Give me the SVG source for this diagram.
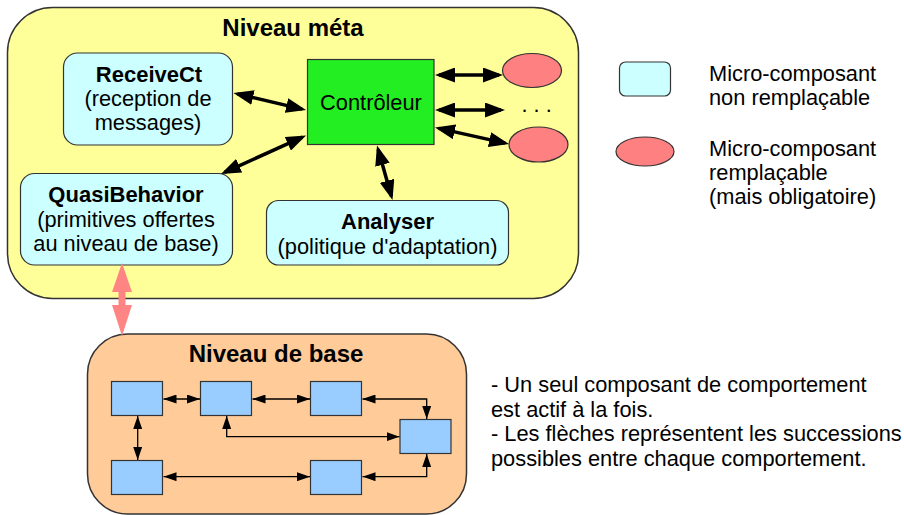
<svg xmlns="http://www.w3.org/2000/svg" width="904" height="515" viewBox="0 0 904 515">
<style>
  text { font-family: "Liberation Sans", Arial, sans-serif; fill: #000; }
  .title { font-size: 24px; font-weight: bold; text-anchor: middle; }
  .head { font-size: 22px; font-weight: bold; text-anchor: middle; }
  .body { font-size: 21.8px; text-anchor: middle; }
  .left { font-size: 21.8px; }
  .cont { stroke: #333; stroke-width: 1.5; }
  .micro { fill: #ccffff; stroke: #333; stroke-width: 1.2; }
  .repl { fill: #ff8080; stroke: #333; stroke-width: 1.2; }
  .beh { fill: #99ccff; stroke: #333; stroke-width: 1.2; }
  .thick { fill: none; stroke: #000; stroke-width: 3.5; marker-start: url(#bigHead); marker-end: url(#bigHead); }
  .thin { fill: none; stroke: #000; stroke-width: 1.3; marker-start: url(#smallHead); marker-end: url(#smallHead); }
</style>
<defs>
  <marker id="bigHead" markerUnits="userSpaceOnUse" markerWidth="20" markerHeight="15" refX="16" refY="7.5" orient="auto-start-reverse">
    <path d="M0,0 L20,7.5 L0,15 z" fill="#000"/>
  </marker>
  <marker id="smallHead" markerUnits="userSpaceOnUse" markerWidth="13" markerHeight="9" refX="13" refY="4.5" orient="auto-start-reverse">
    <path d="M0,0 L13,4.5 L0,9 z" fill="#000"/>
  </marker>
</defs>

<g id="niveau-meta">
  <rect class="cont" x="7.5" y="7.5" width="571" height="291" rx="45" fill="#ffff99"/>
  <text class="title" x="293" y="36">Niveau méta</text>
</g>

<g id="niveau-base">
  <rect class="cont" x="87.5" y="334" width="379" height="180" rx="40" fill="#ffcc99"/>
  <text class="title" x="276" y="362">Niveau de base</text>
</g>

<g id="receivect">
  <rect class="micro" x="63.5" y="53" width="169" height="92" rx="14"/>
  <text class="head" x="149" y="82">ReceiveCt</text>
  <text class="body" x="148" y="106">(reception de</text>
  <text class="body" x="148" y="130">messages)</text>
</g>

<g id="controleur">
  <rect x="307.5" y="59.5" width="126.5" height="85" fill="#22ee22" stroke="#333" stroke-width="1.2"/>
  <text class="body" x="371" y="110">Contrôleur</text>
</g>

<g id="quasibehavior">
  <rect class="micro" x="20.5" y="173.5" width="212" height="91.5" rx="14"/>
  <text class="head" x="126" y="202">QuasiBehavior</text>
  <text class="body" x="126" y="226.5">(primitives offertes</text>
  <text class="body" x="126" y="250.5">au niveau de base)</text>
</g>

<g id="analyser">
  <rect class="micro" x="266.5" y="200.5" width="242" height="64.5" rx="12"/>
  <text class="head" x="387.5" y="228.5">Analyser</text>
  <text class="body" x="387.5" y="253.5">(politique d'adaptation)</text>
</g>

<g id="composant-remplacable-1">
  <ellipse class="repl" cx="532" cy="70.5" rx="29.5" ry="17"/>
</g>
<g id="composant-remplacable-etc">
  <text class="left" x="521.5" y="112">. . .</text>
</g>
<g id="composant-remplacable-2">
  <ellipse class="repl" cx="538.5" cy="144.5" rx="29.5" ry="17.5"/>
</g>

<g id="b1"><rect class="beh" x="111.5" y="381.5" width="51" height="34"/></g>
<g id="b2"><rect class="beh" x="200.5" y="381.5" width="51" height="34"/></g>
<g id="b3"><rect class="beh" x="310.5" y="381.5" width="51" height="34"/></g>
<g id="b4"><rect class="beh" x="400" y="419.5" width="51" height="34"/></g>
<g id="b5"><rect class="beh" x="111.5" y="460.5" width="51" height="34"/></g>
<g id="b6"><rect class="beh" x="310.5" y="460.5" width="51" height="34"/></g>

<g id="connectors">
  <line class="thick" x1="237.4" y1="93.9" x2="302.1" y2="109.1"/>
  <line class="thick" x1="224.6" y1="172.3" x2="302.4" y2="137.2"/>
  <line class="thick" x1="378.1" y1="149.3" x2="391.4" y2="196.2"/>
  <line class="thick" x1="439" y1="75" x2="499" y2="75"/>
  <line class="thick" x1="439" y1="110" x2="501" y2="110"/>
  <line class="thick" x1="438.9" y1="128.4" x2="505.1" y2="143.1"/>

  <line class="thin" x1="163.5" y1="399" x2="200" y2="399"/>
  <line class="thin" x1="252.5" y1="399" x2="310" y2="399"/>
  <path class="thin" d="M362.5,399 H426.7 V419"/>
  <path class="thin" d="M226.7,416 V436.7 H399.5"/>
  <line class="thin" x1="137.7" y1="416" x2="137.7" y2="460"/>
  <line class="thin" x1="163.5" y1="476.7" x2="310" y2="476.7"/>
  <path class="thin" d="M362.5,476.7 H426.7 V454"/>

  <polygon points="122,263 132,292 125.5,292 125.5,305 132,305 122,336 112,305 118.5,305 118.5,292 112,292" fill="#ff8585"/>
</g>

<g id="legende-non-remplacable">
  <rect class="micro" x="619.5" y="62" width="51" height="34" rx="6"/>
  <text class="left" x="709" y="81">Micro-composant</text>
  <text class="left" x="709" y="105">non remplaçable</text>
</g>
<g id="legende-remplacable">
  <ellipse class="repl" cx="645" cy="151.5" rx="29" ry="14.5"/>
  <text class="left" x="709" y="156">Micro-composant</text>
  <text class="left" x="709" y="180">remplaçable</text>
  <text class="left" x="709" y="204">(mais obligatoire)</text>
</g>

<g id="note">
  <text class="left" x="491" y="392">- Un seul composant de comportement</text>
  <text class="left" x="491" y="417">est actif à la fois.</text>
  <text class="left" x="491" y="441">- Les flèches représentent les successions</text>
  <text class="left" x="491" y="466">possibles entre chaque comportement.</text>
</g>
</svg>
